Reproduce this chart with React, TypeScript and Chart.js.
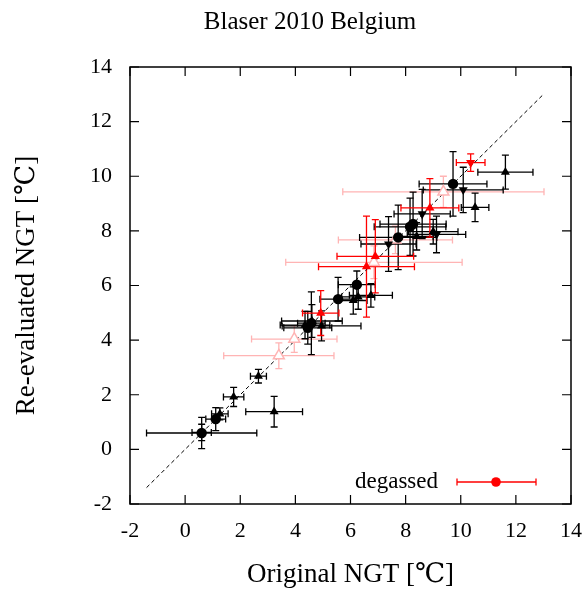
import React, { useEffect, useRef } from 'react';
import { Chart, registerables } from 'chart.js';

Chart.register(...registerables);

const TITLE = 'Blaser 2010 Belgium';
const X_LABEL = 'Original NGT [℃]';
const Y_LABEL = 'Re-evaluated NGT [℃]';
const LEGEND_LABEL = 'degassed';
const AXIS_MIN = -2;
const AXIS_MAX = 14;
const AXIS_STEP = 2;

// 1:1 reference line
const diagX = [-1.4, 13];
const diagY = [-1.4, 13];

// black filled circles
const circleX = [0.6, 1.11, 4.45, 4.58, 5.55, 6.23, 7.73, 8.16, 8.27, 9.72];
const circleY = [0.6, 1.11, 4.45, 4.62, 5.5, 6.03, 7.76, 8.15, 8.25, 9.72];
const circleXErr = [2.0, 0.36, 0.87, 0.5, 0.66, 0.67, 1.4, 1.3, 1.2, 1.23];
const circleYErr = [0.57, 0.42, 0.6, 1.15, 0.8, 0.5, 1.18, 1.05, 1.17, 1.18];

// black filled up-triangles
const upX = [0.6, 1.26, 1.76, 2.66, 3.23, 4.6, 4.95, 4.35, 6.1, 6.28, 6.74, 8.4, 9.0, 10.52, 11.62];
const upY = [0.62, 1.3, 1.92, 2.68, 1.38, 4.7, 4.52, 4.55, 5.45, 5.58, 5.64, 7.8, 7.97, 8.86, 10.15];
const upXErr = [0.35, 0.3, 0.37, 0.29, 1.03, 1.1, 1.43, 0.9, 0.5, 0.6, 0.78, 0.6, 0.9, 0.5, 1.0];
const upYErr = [0.3, 0.22, 0.35, 0.25, 0.56, 0.6, 0.55, 0.5, 0.5, 0.45, 0.43, 0.5, 0.45, 0.52, 0.62];

// black filled down-triangles
const downX = [7.38, 8.6, 9.12, 10.09];
const downY = [7.52, 8.62, 7.87, 9.5];
const downXErr = [1.0, 1.02, 1.06, 1.45];
const downYErr = [1.0, 0.9, 0.67, 0.83];

// red (degassed) up-triangles
const redUpX = [4.92, 6.58, 6.9, 8.88];
const redUpY = [4.99, 6.69, 7.07, 8.84];
const redUpXErr = [0.66, 1.74, 1.39, 1.05];
const redUpYErr = [0.82, 1.85, 1.34, 1.07];

// red (degassed) down-triangle
const redDownX = [10.36];
const redDownY = [10.5];
const redDownXErr = [0.52];
const redDownYErr = [0.32];

// light red open triangles
const pinkX = [3.4, 3.96, 6.85, 7.63, 9.37];
const pinkY = [3.43, 4.04, 6.85, 7.67, 9.43];
const pinkXErr = [2.0, 1.55, 3.2, 2.07, 3.65];
const pinkYErr = [0.47, 0.49, 0.6, 0.5, 0.57];

const FONT = '"Liberation Serif", "DejaVu Serif", serif';
const BLACK = '#000000';
const RED = '#ff0000';
const PINK = '#ffb4b4';

const pts = (xs: number[], ys: number[]) => xs.map((x, i) => ({ x, y: ys[i] }));

const errorBarPlugin = {
  id: 'errorBars',
  beforeDatasetsDraw(chart: any) {
    const ctx = chart.ctx;
    const xs = chart.scales.x;
    const ys = chart.scales.y;
    const dsets = chart.data.datasets;
    ctx.save();
    for (let d = dsets.length - 1; d >= 0; d--) {
      const ds = dsets[d];
      if (!ds.xErr) continue;
      ctx.strokeStyle = ds.barColor;
      ctx.lineWidth = 1.3;
      const cap = 3.5;
      ds.data.forEach((p: any, i: number) => {
        const px = xs.getPixelForValue(p.x);
        const py = ys.getPixelForValue(p.y);
        const x0 = xs.getPixelForValue(p.x - ds.xErr[i]);
        const x1 = xs.getPixelForValue(p.x + ds.xErr[i]);
        const y0 = ys.getPixelForValue(p.y - ds.yErr[i]);
        const y1 = ys.getPixelForValue(p.y + ds.yErr[i]);
        ctx.beginPath();
        ctx.moveTo(x0, py); ctx.lineTo(x1, py);
        ctx.moveTo(x0, py - cap); ctx.lineTo(x0, py + cap);
        ctx.moveTo(x1, py - cap); ctx.lineTo(x1, py + cap);
        ctx.moveTo(px, y0); ctx.lineTo(px, y1);
        ctx.moveTo(px - cap, y0); ctx.lineTo(px + cap, y0);
        ctx.moveTo(px - cap, y1); ctx.lineTo(px + cap, y1);
        ctx.stroke();
      });
    }
    ctx.restore();
  },
};

const framePlugin = {
  id: 'frameAndText',
  afterDraw(chart: any) {
    const ctx = chart.ctx;
    const { left, right, top, bottom } = chart.chartArea;
    const xs = chart.scales.x;
    const ys = chart.scales.y;
    ctx.save();
    ctx.strokeStyle = BLACK;
    ctx.lineWidth = 1.5;
    ctx.strokeRect(left, top, right - left, bottom - top);
    const tl = 9;
    ctx.lineWidth = 1.2;
    ctx.beginPath();
    xs.ticks.forEach((t: any) => {
      const p = xs.getPixelForValue(t.value);
      ctx.moveTo(p, bottom); ctx.lineTo(p, bottom - tl);
      ctx.moveTo(p, top); ctx.lineTo(p, top + tl);
    });
    ys.ticks.forEach((t: any) => {
      const p = ys.getPixelForValue(t.value);
      ctx.moveTo(left, p); ctx.lineTo(left + tl, p);
      ctx.moveTo(right, p); ctx.lineTo(right - tl, p);
    });
    ctx.stroke();

    // title
    ctx.fillStyle = BLACK;
    ctx.font = `25px ${FONT}`;
    ctx.textAlign = 'center';
    ctx.textBaseline = 'middle';
    ctx.fillText(TITLE, 310, 22);

    // legend
    const ly = bottom - 22;
    ctx.font = `23px ${FONT}`;
    ctx.textAlign = 'right';
    ctx.fillText(LEGEND_LABEL, left + 308, ly);
    const lx0 = left + 327;
    const lx1 = left + 406;
    const lc = left + 366;
    ctx.strokeStyle = RED;
    ctx.lineWidth = 1.3;
    ctx.beginPath();
    ctx.moveTo(lx0, ly); ctx.lineTo(lx1, ly);
    ctx.moveTo(lx0, ly - 3.5); ctx.lineTo(lx0, ly + 3.5);
    ctx.moveTo(lx1, ly - 3.5); ctx.lineTo(lx1, ly + 3.5);
    ctx.stroke();
    ctx.fillStyle = RED;
    ctx.beginPath();
    ctx.arc(lc, ly, 4.8, 0, Math.PI * 2);
    ctx.fill();
    ctx.restore();
  },
};

export default function App() {
  const ref = useRef<HTMLCanvasElement | null>(null);

  useEffect(() => {
    if (!ref.current) return;
    const errSet = (label: string, xs: number[], ys: number[], ex: number[], ey: number[], opts: any) => ({
      label,
      data: pts(xs, ys),
      xErr: ex,
      yErr: ey,
      showLine: false,
      ...opts,
    });
    const chart = new Chart(ref.current, {
      type: 'scatter',
      data: {
        datasets: [
          errSet('degassed down', redDownX, redDownY, redDownXErr, redDownYErr, {
            barColor: RED, pointStyle: 'triangle', rotation: 180, pointRadius: 5.3,
            backgroundColor: RED, borderColor: RED, borderWidth: 0,
          }),
          errSet('degassed up', redUpX, redUpY, redUpXErr, redUpYErr, {
            barColor: RED, pointStyle: 'triangle', pointRadius: 5.3,
            backgroundColor: RED, borderColor: RED, borderWidth: 0,
          }),
          errSet('circles', circleX, circleY, circleXErr, circleYErr, {
            barColor: BLACK, pointStyle: 'circle', pointRadius: 5.2,
            backgroundColor: BLACK, borderColor: BLACK, borderWidth: 0,
          }),
          errSet('down', downX, downY, downXErr, downYErr, {
            barColor: BLACK, pointStyle: 'triangle', rotation: 180, pointRadius: 5.2,
            backgroundColor: BLACK, borderColor: BLACK, borderWidth: 0,
          }),
          errSet('up', upX, upY, upXErr, upYErr, {
            barColor: BLACK, pointStyle: 'triangle', pointRadius: 5.2,
            backgroundColor: BLACK, borderColor: BLACK, borderWidth: 0,
          }),
          errSet('open', pinkX, pinkY, pinkXErr, pinkYErr, {
            barColor: PINK, pointStyle: 'triangle', pointRadius: 6.3,
            backgroundColor: '#ffffff', borderColor: PINK, borderWidth: 1.5,
          }),
          {
            label: '1:1',
            data: pts(diagX, diagY),
            showLine: true,
            borderColor: BLACK,
            borderWidth: 1,
            borderDash: [4, 3],
            pointRadius: 0,
            fill: false,
          },
        ],
      },
      options: {
        responsive: false,
        animation: false,
        events: [],
        layout: { padding: { top: 67, right: 0, left: 0, bottom: 0 } },
        plugins: {
          legend: { display: false },
          tooltip: { enabled: false },
          title: { display: false },
        },
        scales: {
          x: {
            type: 'linear',
            min: AXIS_MIN,
            max: AXIS_MAX,
            ticks: { stepSize: AXIS_STEP, color: BLACK, font: { family: FONT, size: 22 }, padding: 14, maxRotation: 0 },
            grid: { display: false, drawTicks: false },
            border: { display: false },
            title: { display: true, text: X_LABEL, color: BLACK, font: { family: FONT, size: 27 }, padding: { top: 0, bottom: 1 } },
            afterFit: (s: any) => { s.height = 88; s.paddingRight = 17; s.paddingLeft = 0; },
          },
          y: {
            type: 'linear',
            min: AXIS_MIN,
            max: AXIS_MAX,
            ticks: { stepSize: AXIS_STEP, color: BLACK, font: { family: FONT, size: 22 }, padding: 18 },
            grid: { display: false, drawTicks: false },
            border: { display: false },
            title: { display: true, text: Y_LABEL, color: BLACK, font: { family: FONT, size: 27 }, padding: { top: 11, bottom: 0 } },
            afterFit: (s: any) => { s.width = 130; },
          },
        },
      } as any,
      plugins: [errorBarPlugin, framePlugin],
    });
    return () => chart.destroy();
  }, []);

  return (
    <div style={{ position: 'fixed', left: 0, top: 0, width: 588, height: 592, background: '#fff' }}>
      <canvas ref={ref} width={588} height={592} style={{ display: 'block' }} />
    </div>
  );
}
